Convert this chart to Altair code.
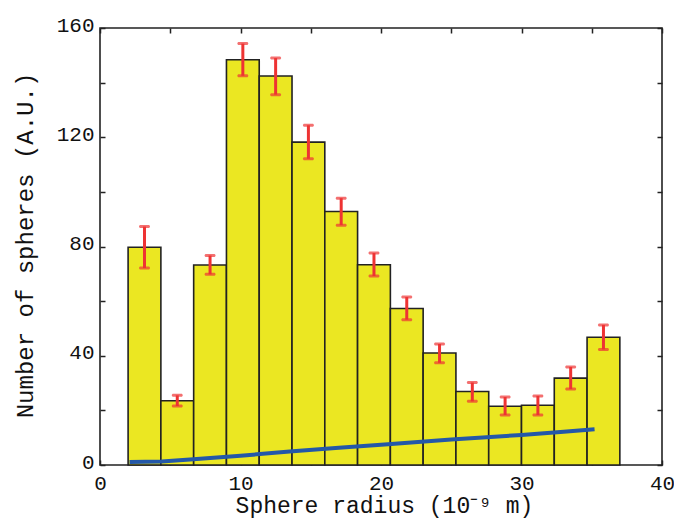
import altair as alt
import pandas as pd

# Histogram bin edges (10^-9 m)
edges = [2.0, 4.333, 6.667, 9.0, 11.333, 13.667, 16.0, 18.333, 20.667,
         23.0, 25.333, 27.667, 30.0, 32.333, 34.667, 37.0]
counts = [79.7, 23.5, 73.2, 148.4, 142.4, 118.2, 92.8, 73.3, 57.3,
          41.0, 26.9, 21.5, 21.9, 31.8, 46.8]
err_hi = [87.3, 25.5, 76.7, 154.3, 149.0, 124.4, 97.7, 77.6, 61.5,
          44.3, 30.2, 24.9, 25.3, 35.9, 51.3]
err_lo = [72.1, 21.6, 69.8, 142.5, 135.6, 112.1, 87.8, 69.2, 53.2,
          37.4, 23.3, 18.3, 18.3, 27.8, 42.3]

# Blue background curve
line_x = [2.1, 4.4, 6.4, 10.0, 13.5, 17.0, 20.5, 25.0, 30.0, 33.0, 35.2]
line_y = [1.1, 1.3, 2.0, 3.4, 4.9, 6.3, 7.6, 9.3, 11.0, 12.2, 13.1]

x_ticks = [0, 5, 10, 15, 20, 25, 30, 35, 40]
y_ticks = [0, 20, 40, 60, 80, 100, 120, 140, 160]

bars = pd.DataFrame({
    "x0": edges[:-1],
    "x1": edges[1:],
    "count": counts,
    "hi": err_hi,
    "lo": err_lo,
})
bars["xc"] = (bars["x0"] + bars["x1"]) / 2
curve = pd.DataFrame({"r": line_x, "v": line_y})

FONT = "Liberation Mono"
TXT = "#111111"
FRAME = "#222222"

xs = alt.Scale(domain=[0, 40], nice=False, zero=False)
ys = alt.Scale(domain=[0, 160], nice=False, zero=False)

xaxis = alt.Axis(
    values=x_ticks,
    labelExpr="datum.value % 10 == 0 ? datum.label : ''",
    tickSize={"expr": "-5"},
    tickWidth=1.5,
    tickColor=FRAME,
    domain=False,
    grid=False,
    labelFlush=False,
    labelOverlap=False,
    labelFont=FONT,
    labelFontSize=21,
    labelColor=TXT,
    labelPadding=12,
    title="Sphere radius (10⁻⁹ m)",
    titleFont=FONT,
    titleFontSize=23,
    titleFontWeight="normal",
    titleColor=TXT,
    titleX=284,
    titleY=47,
    titleAlign="center",
    titleBaseline="alphabetic",
)
yaxis = alt.Axis(
    values=y_ticks,
    labelExpr="datum.value % 40 == 0 ? datum.label : ''",
    tickSize={"expr": "-5"},
    tickWidth=1.5,
    tickColor=FRAME,
    domain=False,
    grid=False,
    labelFlush=False,
    labelOverlap=False,
    labelFont=FONT,
    labelFontSize=21,
    labelColor=TXT,
    labelPadding=11,
    labelOffset=-3,
    title="Number of spheres (A.U.)",
    titleFont=FONT,
    titleFontSize=24,
    titleFontWeight="normal",
    titleColor=TXT,
    titleAngle=-90,
    titleX=-75,
    titleY=217,
    titleAlign="center",
    titleBaseline="middle",
)

base = alt.Chart(bars)

rects = base.mark_rect(color="#EBE722", stroke=FRAME, strokeWidth=1.6).encode(
    x=alt.X("x0:Q", scale=xs, axis=xaxis),
    x2="x1:Q",
    y=alt.Y("count:Q", scale=ys, axis=yaxis),
    y2=alt.datum(0),
)

err_rules = base.mark_rule(color="#EE3333", strokeWidth=3).encode(
    x=alt.X("xc:Q", scale=xs, axis=xaxis),
    y=alt.Y("lo:Q", scale=ys, axis=yaxis),
    y2="hi:Q",
)
cap_hi = base.mark_tick(color="#EE3333", orient="horizontal", size=11,
                        thickness=3, cornerRadius=1.5).encode(
    x=alt.X("xc:Q", scale=xs, axis=xaxis),
    y=alt.Y("hi:Q", scale=ys, axis=yaxis),
)
cap_lo = base.mark_tick(color="#EE3333", orient="horizontal", size=11,
                        thickness=3, cornerRadius=1.5).encode(
    x=alt.X("xc:Q", scale=xs, axis=xaxis),
    y=alt.Y("lo:Q", scale=ys, axis=yaxis),
)

line = alt.Chart(curve).mark_line(color="#2458A8", strokeWidth=4).encode(
    x=alt.X("r:Q", scale=xs, axis=xaxis),
    y=alt.Y("v:Q", scale=ys, axis=yaxis),
)

inner = alt.layer(rects, err_rules, cap_hi, cap_lo, line)

top_axis = alt.Axis(orient="top", values=x_ticks, labels=False, title=None,
                    tickSize={"expr": "-5"}, tickWidth=1.5, tickColor=FRAME,
                    domain=False, grid=False)
right_axis = alt.Axis(orient="right", values=y_ticks, labels=False, title=None,
                      tickSize={"expr": "-5"}, tickWidth=1.5, tickColor=FRAME,
                      domain=False, grid=False)
frame = base.mark_point(opacity=0).encode(
    x=alt.X("xc:Q", scale=xs, axis=top_axis),
    y=alt.Y("count:Q", scale=ys, axis=right_axis),
)

chart = alt.layer(inner, frame).resolve_axis(
    x="independent", y="independent"
).properties(
    width=562,
    height=437,
    autosize=alt.AutoSizeParams(type="none"),
    padding={"left": 92, "top": 20, "right": 12, "bottom": 54},
    background="white",
).configure_view(stroke=FRAME, strokeWidth=1.6)

chart.save("out.html", embed_options={"renderer": "svg", "actions": False})
